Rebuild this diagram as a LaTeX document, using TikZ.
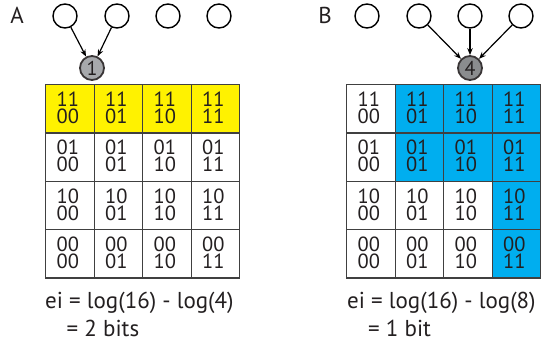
\documentclass[tikz,border=0pt]{standalone}
\usepackage{fontspec}
\setmainfont{PT Sans}
\usetikzlibrary{arrows.meta}
\definecolor{ink}{HTML}{231F20}
\definecolor{cyel}{HTML}{FFF200}
\definecolor{cblue}{HTML}{00AEEF}
\definecolor{gA}{HTML}{A7A9AC}
\definecolor{gB}{HTML}{8A8C8E}
\definecolor{gridc}{HTML}{404040}
\newcommand{\cellfont}{\fontsize{20.5}{20.5}\selectfont}
\tikzset{
  topc/.style={circle,draw=black,line width=1.4pt,fill=white,minimum size=24pt,inner sep=0pt},
  outc/.style={circle,draw=ink!90,line width=1.8pt,minimum size=24pt,inner sep=0pt,text=ink,font=\fontsize{20}{20}\selectfont},
  arr/.style={-{Stealth[length=7pt,width=5.5pt]},line width=1.2pt,black},
  cell/.style={draw=gridc,line width=1.3pt,minimum width=48.5pt,minimum height=48.3pt,inner sep=0pt,anchor=north west},
  celltxt/.style={text=ink,font=\cellfont,inner sep=0pt,anchor=base},
  lbl/.style={text=ink,font=\fontsize{23}{23}\selectfont,inner sep=0pt},
  eq/.style={text=ink,font=\fontsize{23}{23}\selectfont,inner sep=0pt,anchor=base west},
}
\begin{document}
\begin{tikzpicture}[x=1pt,y=-1pt]
\useasboundingbox (0,0) rectangle (546,349);
% ---------- Panel A ----------
\node[lbl] (labA) at (17,15) {A};
\node[topc] (a1) at (65,16) {};
\node[topc] (a2) at (117,16) {};
\node[topc] (a3) at (168,16) {};
\node[topc] (a4) at (219,16) {};
\node[outc,fill=gA] (na) at (92,68) {1};
\draw[arr] (a1) -- (na);
\draw[arr] (a2) -- (na);
% grid A
\foreach \r/\rl in {0/11,1/01,2/10,3/00}{
  \foreach \c/\cl in {0/00,1/01,2/10,3/11}{
    \pgfmathsetmacro{\xx}{45+48.5*\c}
    \pgfmathsetmacro{\yy}{84+48.3*\r}
    \ifnum\r=0
      \node[cell,fill=cyel] (A-\r-\c) at (\xx,\yy) {};
    \else
      \node[cell,fill=white] (A-\r-\c) at (\xx,\yy) {};
    \fi
    \node[celltxt] (Au-\r-\c) at ([xshift=-2pt,yshift=-22.5pt]A-\r-\c.north) {\rl};
    \node[celltxt] (Al-\r-\c) at ([xshift=-2pt,yshift=-39.5pt]A-\r-\c.north) {\cl};
  }
}
\node[eq] (eqA1) at (45,308) {ei = log(16) - log(4)};
\node[eq] (eqA2) at (66.5,336) {= 2 bits};
% ---------- Panel B ----------
\node[lbl] (labB) at (325,15) {B};
\node[topc] (b1) at (367,16) {};
\node[topc] (b2) at (419,16) {};
\node[topc] (b3) at (470,16) {};
\node[topc] (b4) at (521,16) {};
\node[outc,fill=gB] (nb) at (470,68) {4};
\draw[arr] (b2) -- (nb);
\draw[arr] (b3) -- (nb);
\draw[arr] (b4) -- (nb);
\foreach \r/\rl in {0/11,1/01,2/10,3/00}{
  \foreach \c/\cl in {0/00,1/01,2/10,3/11}{
    \pgfmathsetmacro{\xx}{346+48.5*\c}
    \pgfmathsetmacro{\yy}{84+48.3*\r}
    \pgfmathtruncatemacro{\isblue}{(\r<2 && \c>0) || \c==3 ? 1 : 0}
    \ifnum\isblue=1
      \node[cell,fill=cblue] (B-\r-\c) at (\xx,\yy) {};
    \else
      \node[cell,fill=white] (B-\r-\c) at (\xx,\yy) {};
    \fi
    \node[celltxt] (Bu-\r-\c) at ([xshift=-2pt,yshift=-22.5pt]B-\r-\c.north) {\rl};
    \node[celltxt] (Bl-\r-\c) at ([xshift=-2pt,yshift=-39.5pt]B-\r-\c.north) {\cl};
  }
}
\node[eq] (eqB1) at (347,308) {ei = log(16) - log(8)};
\node[eq] (eqB2) at (368,336) {= 1 bit};
\end{tikzpicture}
\end{document}
